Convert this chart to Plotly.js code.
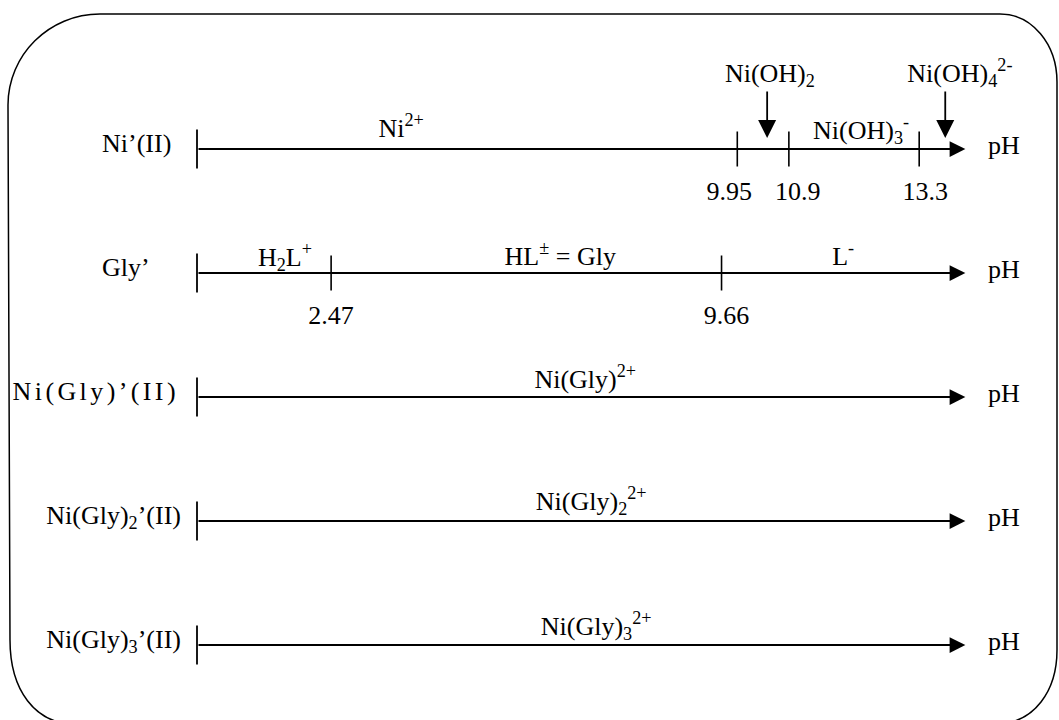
<!DOCTYPE html>
<html>
<head>
<meta charset="utf-8">
<script src="https://cdn.plot.ly/plotly-3.0.1.min.js"></script>
<style>html,body{margin:0;padding:0;background:#fff;}#chart{width:1059px;height:720px;}</style>
</head>
<body>
<div id="chart"></div>
<script>
// ---- data ----
const rowLabels = ["Ni’(II)", "Gly’", "Ni(Gly)’(II)", "Ni(Gly)<sub>2</sub>’(II)", "Ni(Gly)<sub>3</sub>’(II)"];
const pHStart = 0;
const pHAxisEnd = 14.15;
const niBoundaries = [9.95, 10.9, 13.3];
const glyBoundaries = [2.47, 9.66];
const boundaries = [niBoundaries, glyBoundaries, [], [], []];
const boundaryLabels = [["9.95", "10.9", "13.3"], ["2.47", "9.66"], [], [], []];
const zoneSpecies = [
  ["Ni<sup>2+</sup>", "Ni(OH)<sub>3</sub><sup>-</sup>"],
  ["H<sub>2</sub>L<sup>+</sup>", "HL<sup>±</sup> = Gly", "L<sup>-</sup>"],
  ["Ni(Gly)<sup>2+</sup>"],
  ["Ni(Gly)<sub>2</sub><sup>2+</sup>"],
  ["Ni(Gly)<sub>3</sub><sup>2+</sup>"]
];
const pointSpecies = ["Ni(OH)<sub>2</sub>", "Ni(OH)<sub>4</sub><sup>2-</sup>"];
const pointSpeciesPH = [10.5, 13.78];
const axisLabel = "pH";

// ---- layout helpers (pixel geometry of the drawing) ----
const W = 1059, H = 720;
const px0 = 197, pxPerPH = 54.3;         // x pixel of pH 0, pixels per pH unit
const rowPx0 = 149, rowPxStep = 124;     // y pixel of first row, spacing
const toPH = px => (px - px0) / pxPerPH;
const dRow = px => px / rowPxStep;        // pixel offset (down positive) -> row units
const zoneLabelPH = [[3.76, 12.23], [1.62, 6.69, 11.9], [7.15], [7.26], [7.35]];
const zoneLabelDy = [[-19, -17], [-14, -15, -15], [-16], [-18], [-17]];
const boundaryLabelShift = [[-8, 9, 6], [0, 5], [], [], []];
const pointTextPH = [10.55, 14.05];
const rowLabelPos = [{x: toPH(102), a: "middle right"}, {x: toPH(102), a: "middle right"},
                     {x: toPH(179), a: "middle left"}, {x: toPH(181), a: "middle left"}, {x: toPH(181), a: "middle left"}];
const rowLabelSpacing = ["0px", "0px", "3.4px", "0px", "0px"];

const FONT_FAMILY = "Liberation Serif, Times New Roman, serif";
const tx = [], ty = [], tt = [], tp = [];
function addText(x, y, t, pos) { tx.push(x); ty.push(y); tt.push(t); tp.push(pos); }

const annotations = [];
const tickX = [], tickY = [], startX = [], startY = [];

rowLabels.forEach((lab, i) => {
  const txt = rowLabelSpacing[i] === "0px" ? lab :
    '<span style="letter-spacing:' + rowLabelSpacing[i] + '">' + lab + '</span>';
  addText(rowLabelPos[i].x, i + dRow(-4), txt, rowLabelPos[i].a);
  // axis arrow
  annotations.push({x: pHAxisEnd, y: i, ax: pHStart, ay: i, xref: "x", yref: "y", axref: "x", ayref: "y",
    text: "", showarrow: true, arrowhead: 2, arrowsize: 1.75, arrowwidth: 1.8, arrowcolor: "#000"});
  addText(toPH(988), i + dRow(-2), axisLabel, "middle right");
  startX.push(pHStart); startY.push(i);
  boundaries[i].forEach((b, j) => {
    tickX.push(b); tickY.push(i);
    addText(b + boundaryLabelShift[i][j] / pxPerPH, i + dRow(44), boundaryLabels[i][j], "middle center");
  });
  zoneSpecies[i].forEach((s, j) => {
    addText(zoneLabelPH[i][j], i + dRow(zoneLabelDy[i][j]), s, "middle center");
  });
});

pointSpecies.forEach((s, k) => {
  annotations.push({x: pointSpeciesPH[k], y: 0, xref: "x", yref: "y", ax: 0, ay: -48, yshift: 11,
    text: "", showarrow: true, arrowhead: 2, arrowsize: 2, arrowwidth: 1.8, arrowcolor: "#000"});
  addText(pointTextPH[k], dRow(-74), s, "middle center");
});

const traces = [
  {x: tickX, y: tickY, type: "scatter", mode: "markers", hoverinfo: "skip", showlegend: false,
   marker: {symbol: "line-ns", size: 25, color: "#000", line: {width: 1.6, color: "#000"}}},
  {x: startX, y: startY, type: "scatter", mode: "markers", hoverinfo: "skip", showlegend: false,
   marker: {symbol: "line-ns", size: 28, color: "#000", line: {width: 1.8, color: "#000"}}},
  {x: tx, y: ty, text: tt, type: "scatter", mode: "text", textposition: tp, hoverinfo: "skip",
   showlegend: false, cliponaxis: false,
   textfont: {family: FONT_FAMILY, size: 26, color: "#000"}}
];

// rounded frame (pixel path -> paper coords)
const P = (x, y) => (x / W).toFixed(5) + "," + (1 - y / H).toFixed(5);
const framePath = "M" + P(8, 105) + " C" + P(8, 55) + " " + P(49, 14) + " " + P(100, 14) +
  " L" + P(1000, 14) + " C" + P(1032, 14) + " " + P(1057, 44) + " " + P(1057, 82) +
  " L" + P(1057, 650) + " C" + P(1057, 690) + " " + P(1035, 724) + " " + P(995, 724) +
  " L" + P(75, 724) + " C" + P(35, 724) + " " + P(10, 690) + " " + P(10, 640) + " Z";

const layout = {
  width: W, height: H,
  margin: {l: 0, r: 0, t: 0, b: 0},
  paper_bgcolor: "#fff", plot_bgcolor: "#fff",
  showlegend: false,
  xaxis: {range: [toPH(0), toPH(W)], visible: false, fixedrange: true},
  yaxis: {range: [(H - rowPx0) / rowPxStep, -rowPx0 / rowPxStep], visible: false, fixedrange: true},
  annotations: annotations,
  shapes: [{type: "path", xref: "paper", yref: "paper", path: framePath,
            line: {color: "#000", width: 1.5}, fillcolor: "rgba(0,0,0,0)"}]
};

Plotly.newPlot("chart", traces, layout, {displayModeBar: false}).then(gd => {
  // make the rendered font size explicit on every text node
  gd.querySelectorAll("svg text").forEach(t => {
    const fs = window.getComputedStyle(t).fontSize;
    if (fs) t.setAttribute("font-size", fs);
  });
});
</script>
</body>
</html>
